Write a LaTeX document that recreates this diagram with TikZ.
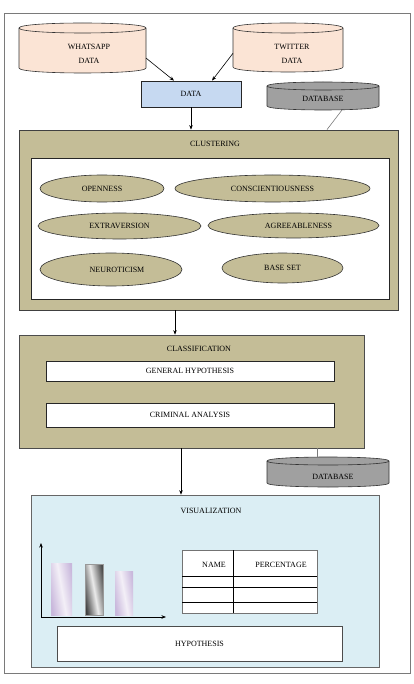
\documentclass[tikz,border=0pt]{standalone}
\usepackage{fontspec}
\setmainfont{Liberation Serif}
\usetikzlibrary{arrows.meta,shapes.geometric,fit,calc}
\definecolor{peach}{HTML}{FBE4D5}
\definecolor{datablue}{HTML}{C6D9F1}
\definecolor{dbgray}{HTML}{A0A0A0}
\definecolor{khaki}{HTML}{C4BD97}
\definecolor{vislight}{HTML}{DBEEF4}
\definecolor{lav}{HTML}{C9B8DC}
\definecolor{lavlight}{HTML}{F3EFF7}
\definecolor{framegray}{HTML}{7A7A7A}
\newcommand{\mycyl}[7]{%
  \path[#6] ({#1},{#2+#5}) -- ({#1},{#4-#5})
    .. controls ({#1},{#4+0.333*#5}) and ({#3},{#4+0.333*#5}) .. ({#3},{#4-#5})
    -- ({#3},{#2+#5})
    .. controls ({#3},{#2-0.333*#5}) and ({#1},{#2-0.333*#5}) .. ({#1},{#2+#5}) -- cycle;
  \draw[#6,fill=none] ({#1},{#2+#5})
    .. controls ({#1},{#2+2.333*#5}) and ({#3},{#2+2.333*#5}) .. ({#3},{#2+#5});
  \node[inner sep=0pt,outer sep=0pt,fit={({#1},{#2}) ({#3},{#4})}] (#7) {};
}
\tikzset{
  txt/.style={font=\fontsize{8}{9.5}\selectfont, inner sep=0pt, text=black},
  box/.style={draw=black!85, line width=0.7pt, inner sep=0pt},
  trait/.style={ellipse, draw=black!80, line width=0.6pt, fill=khaki, inner sep=0pt,
     font=\fontsize{8}{9.5}\selectfont, text=black},
  arr/.style={-{Stealth[length=4.5pt,width=3.5pt]}, line width=0.6pt, black},
  gline/.style={line width=0.6pt, framegray},
  cylpeach/.style={draw=black!80, line width=0.6pt, fill=peach},
  cylgray/.style={draw=black!80, line width=0.6pt, fill=dbgray},
}
\begin{document}
\begin{tikzpicture}[x=1pt,y=-1pt]
\useasboundingbox (0,0) rectangle (413,684);
\draw[framegray, line width=0.9pt] (4,13) rectangle (410,673);

% sources
\mycyl{19}{23}{146}{73}{5}{cylpeach}{wa}
\node[txt, align=center] (wal) at (89,54) {WHATSAPP\\[4.5pt]DATA};
\mycyl{233}{23}{343}{72}{5}{cylpeach}{tw}
\node[txt, align=center] (twl) at (292,54) {TWITTER\\[4.5pt]DATA};

\node[box, fill=datablue, minimum width=100pt, minimum height=26pt, txt] (data) at (191,94) {DATA};

\mycyl{267}{82}{379}{110}{4}{cylgray}{db1}
\node[txt] (db1l) at (323,99) {DATABASE};

% clustering
\node[box, fill=khaki, minimum width=379pt, minimum height=180pt, line width=0.8pt, draw=black!75] (clu) at (208.5,220) {};
\node[txt] (clut) at (215,144) {CLUSTERING};
\node[box, fill=white, minimum width=358pt, minimum height=141pt] (cin) at (210,228.5) {};
\node[trait, minimum width=124pt, minimum height=27pt] (op) at (102,188.5) {OPENNESS};
\node[trait, minimum width=195pt, minimum height=27pt] (co) at (272.5,188.5) {CONSCIENTIOUSNESS};
\node[trait, minimum width=163pt, minimum height=26pt] (ex) at (119.5,226) {EXTRAVERSION};
\node[trait, minimum width=171pt, minimum height=25pt] (ag) at (293.5,225.5) {\hspace*{10pt}AGREEABLENESS};
\node[trait, minimum width=142pt, minimum height=33pt] (ne) at (111,269.5) {\hspace*{12pt}NEUROTICISM};
\node[trait, minimum width=121pt, minimum height=30pt] (bs) at (282.5,268) {BASE SET};

% classification
\node[box, fill=khaki, minimum width=345pt, minimum height=113pt, draw=black!70] (cls) at (191.5,391.5) {};
\node[txt] (clst) at (199,349) {CLASSIFICATION};
\node[box, fill=white, minimum width=288pt, minimum height=20pt, txt] (gh) at (190,371) {GENERAL HYPOTHESIS};
\node[box, fill=white, minimum width=288pt, minimum height=24pt, txt] (ca) at (190,415) {CRIMINAL ANALYSIS};

\mycyl{267}{457}{389}{487}{4}{cylgray}{db2}
\node[txt] (db2l) at (333,477) {DATABASE};

% visualization
\node[box, fill=vislight, minimum width=348pt, minimum height=172pt, draw=black!60, line width=0.6pt] (vis) at (205,581) {};
\node[txt] (vist) at (211,511) {VISUALIZATION};
\coordinate (o) at (41,617);
\draw[arr] (o) -- (41,543);
\draw[arr] (o) -- (166,617);
\shade[left color=lav, right color=lav, middle color=lavlight, shading angle=100] (51,563) rectangle (72,615);
\shade[left color=black!75, right color=black!70, middle color=black!8, shading angle=100] (85,564) rectangle (103,615);
\draw[black!40, line width=0.3pt] (85,564) rectangle (103,615);
\shade[left color=lav, right color=lav, middle color=lavlight, shading angle=100] (115,571) rectangle (133,615);

\node[draw=black!55, fill=white, line width=0.6pt, inner sep=0pt, minimum width=135pt, minimum height=63pt] (tab) at (249.5,581.5) {};
\draw[black, line width=0.6pt] (233,550) -- (233,613);
\draw[black, line width=0.6pt] (182,576) -- (317,576);
\draw[black, line width=0.6pt] (182,587.5) -- (317,587.5);
\draw[black, line width=0.6pt] (182,602) -- (317,602);
\node[txt] (tn) at (214,565) {NAME};
\node[txt] (tp) at (281,565) {PERCENTAGE};

\node[box, fill=white, minimum width=285pt, minimum height=35pt, txt, draw=black!70] (hyp) at (199.5,643.5) {HYPOTHESIS};

% connectors
\draw[arr] (wa.-9) -- ([xshift=-17pt]data.north);
\draw[arr] (tw.186) -- ([xshift=21pt]data.north);
\draw[arr] (data.south) -- (data.south |- clu.north);
\draw[gline] ([xshift=19pt]db1.south) -- ([xshift=118.5pt]clu.north);
\draw[arr] ([xshift=-33.5pt]clu.south) coordinate (c1) -- (c1 |- cls.north);
\draw[arr] ([xshift=-10.5pt]cls.south) coordinate (c2) -- (c2 |- vis.north);
\draw[gline] ([xshift=125.5pt]cls.south) coordinate (c3) -- (c3 |- db2.north);
\end{tikzpicture}
\end{document}
